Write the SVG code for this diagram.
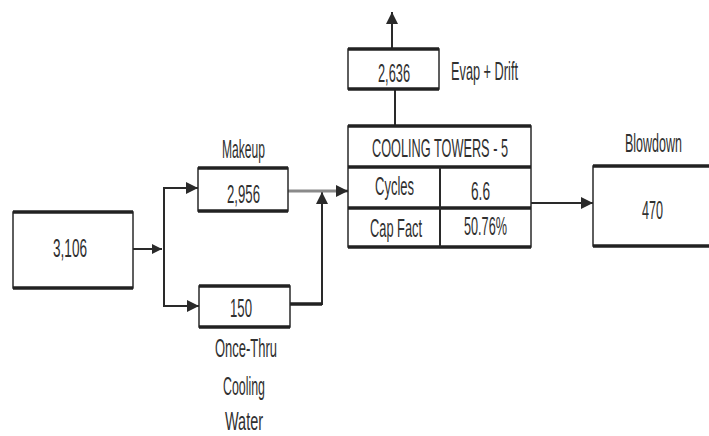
<svg xmlns="http://www.w3.org/2000/svg" width="709" height="436" viewBox="0 0 709 436">
<style>
text{font-family:"Liberation Sans",Arial,sans-serif;font-size:26px;fill:#303030;text-anchor:middle}
.box{fill:#fff;stroke:#2a2a2a;stroke-width:1.5}
.thick{stroke:#222;stroke-width:3.5;fill:none}
.ln{stroke:#2a2a2a;stroke-width:2;fill:none}
.grey{stroke:#8a8a8a;stroke-width:3;fill:none}
</style>
<defs>
<marker id="ah" viewBox="0 0 10 10" refX="10" refY="5" markerWidth="10" markerHeight="10" markerUnits="userSpaceOnUse" orient="auto">
<path d="M0,0 L10,5 L0,10 z" fill="#2a2a2a"/>
</marker>
<marker id="ahl" viewBox="0 0 10 10" refX="10" refY="5" markerWidth="12" markerHeight="12" markerUnits="userSpaceOnUse" orient="auto">
<path d="M0,0 L10,5 L0,10 z" fill="#2a2a2a"/>
</marker>
</defs>
<rect width="709" height="436" fill="#fff"/>
<g id="connectors">
<line class="ln" x1="133" y1="249" x2="162" y2="249" marker-end="url(#ah)"/>
<line class="ln" x1="164" y1="187" x2="164" y2="307"/>
<line class="ln" x1="163" y1="188" x2="198" y2="188" stroke-width="3" marker-end="url(#ahl)"/>
<line class="ln" x1="163" y1="306" x2="199" y2="306" stroke-width="3" marker-end="url(#ahl)"/>
<polyline class="ln" points="290,304 322,304 322,192" marker-end="url(#ahl)"/>
<polyline class="thick" points="290,304 322,304"/>
<line class="grey" x1="288" y1="191" x2="348" y2="191"/>
<line class="ln" x1="336" y1="191" x2="348" y2="191" marker-end="url(#ahl)"/>
<line class="ln" x1="395" y1="126" x2="395" y2="89"/>
<line class="ln" x1="392" y1="49" x2="392" y2="12" marker-end="url(#ahl)"/>
<line class="ln" x1="531" y1="203" x2="593" y2="203" marker-end="url(#ahl)"/>
</g>
<g id="source">
<rect class="box" x="13" y="212" width="120" height="76"/>
<line class="thick" x1="13" y1="212" x2="133" y2="212"/>
<line class="thick" x1="13" y1="288" x2="133" y2="288"/>
<text x="70" y="257" textLength="34" lengthAdjust="spacingAndGlyphs">3,106</text>
</g>
<g id="makeup">
<rect class="box" x="198" y="168" width="90" height="43"/>
<line class="thick" x1="198" y1="168" x2="288" y2="168"/>
<line class="thick" x1="198" y1="211" x2="288" y2="211"/>
<text x="243.5" y="158" textLength="43" lengthAdjust="spacingAndGlyphs">Makeup</text>
<text x="243.5" y="203" textLength="33" lengthAdjust="spacingAndGlyphs">2,956</text>
</g>
<g id="oncethru">
<rect class="box" x="199" y="286" width="91" height="41"/>
<line class="thick" x1="199" y1="286" x2="290" y2="286"/>
<line class="thick" x1="199" y1="327" x2="290" y2="327"/>
<text x="241" y="317" textLength="22" lengthAdjust="spacingAndGlyphs">150</text>
<text x="246" y="357" textLength="62" lengthAdjust="spacingAndGlyphs">Once-Thru</text>
<text x="244" y="395" textLength="42" lengthAdjust="spacingAndGlyphs">Cooling</text>
<text x="244" y="430" textLength="38" lengthAdjust="spacingAndGlyphs">Water</text>
</g>
<g id="evap">
<rect class="box" x="348" y="49" width="91" height="40"/>
<line class="thick" x1="348" y1="49" x2="439" y2="49"/>
<line class="thick" x1="348" y1="89" x2="439" y2="89"/>
<text x="394" y="82" textLength="32" lengthAdjust="spacingAndGlyphs">2,636</text>
<text x="484.5" y="80" textLength="67" lengthAdjust="spacingAndGlyphs">Evap + Drift</text>
</g>
<g id="towers">
<rect class="box" x="348" y="126" width="183" height="121"/>
<line class="thick" x1="348" y1="126" x2="531" y2="126"/>
<line class="thick" x1="348" y1="167" x2="531" y2="167"/>
<line class="thick" x1="348" y1="208" x2="531" y2="208"/>
<line class="thick" x1="348" y1="247" x2="531" y2="247"/>
<line class="ln" x1="440" y1="167" x2="440" y2="247"/>
<text x="440" y="157" textLength="136" lengthAdjust="spacingAndGlyphs">COOLING TOWERS - 5</text>
<text x="394.5" y="195" textLength="39" lengthAdjust="spacingAndGlyphs">Cycles</text>
<text x="480.5" y="200" textLength="19" lengthAdjust="spacingAndGlyphs">6.6</text>
<text x="396" y="237" textLength="52" lengthAdjust="spacingAndGlyphs">Cap Fact</text>
<text x="485.5" y="235" textLength="43" lengthAdjust="spacingAndGlyphs">50.76%</text>
</g>
<g id="blowdown">
<rect class="box" x="593" y="166" width="130" height="80"/>
<line class="thick" x1="593" y1="166" x2="709" y2="166"/>
<line class="thick" x1="593" y1="246" x2="709" y2="246"/>
<text x="653.5" y="152" textLength="57" lengthAdjust="spacingAndGlyphs">Blowdown</text>
<text x="652.5" y="219" textLength="21" lengthAdjust="spacingAndGlyphs">470</text>
</g>
</svg>
